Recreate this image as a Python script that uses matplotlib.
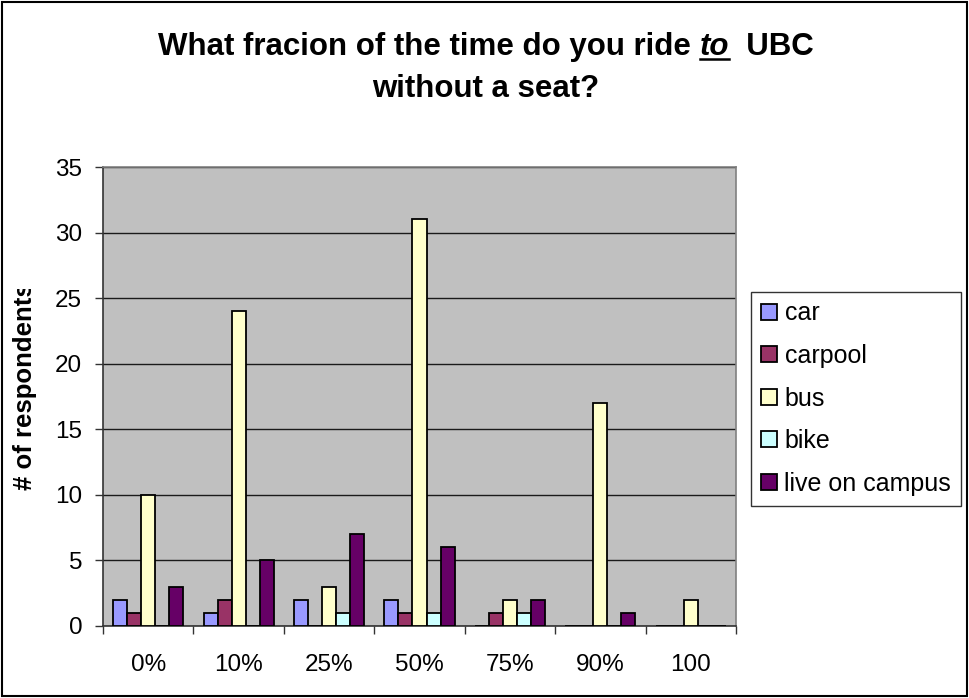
import numpy as np
import matplotlib
matplotlib.use("Agg")
from matplotlib import pyplot as plt
from matplotlib import patches
from matplotlib.transforms import Bbox, TransformedBbox

# data
categories = ["0%", "10%", "25%", "50%", "75%", "90%", "100"]
car = [2, 1, 2, 2, 0, 0, 0]
carpool = [1, 2, 0, 1, 1, 0, 0]
bus = [10, 24, 3, 31, 2, 17, 2]
bike = [0, 0, 1, 1, 1, 0, 0]
live_on_campus = [3, 5, 7, 6, 2, 1, 0]

series_names = ["car", "carpool", "bus", "bike", "live on campus"]
series_vals = [car, carpool, bus, bike, live_on_campus]
colors = ["#9999FF", "#993366", "#FFFFCC", "#CCFFFF", "#660066"]

plt.rcParams['font.family'] = ['Liberation Sans', 'DejaVu Sans']

W, H = 969, 698
fig = plt.figure(figsize=(W / 100, H / 100), dpi=100)
fig.patch.set_facecolor("white")

ax = fig.add_axes([103 / W, 1 - 626 / H, (736 - 103) / W, (626 - 167) / H])
ax.set_facecolor("#C0C0C0")

x = np.arange(len(categories))
bw = 0.155
handles = []
for i, (name, vals, c) in enumerate(zip(series_names, series_vals, colors)):
    b = ax.bar(x + (i - 2) * bw, vals, bw, color=c, edgecolor="black",
               linewidth=1.3, label=name, zorder=3)
    handles.append(b)

ax.set_xlim(-0.5, len(categories) - 0.5)
ax.set_ylim(0, 35)
ax.set_yticks(range(0, 36, 5))
ax.yaxis.grid(True, color="#1a1a1a", linewidth=1.0, zorder=1)
ax.set_axisbelow(True)

ax.set_xticks(x)
ax.set_xticklabels(categories)
ax.set_xticks(np.arange(-0.5, len(categories), 1.0), minor=True)
ax.tick_params(axis="x", which="major", length=0, pad=20, labelsize=17.5)
ax.tick_params(axis="x", which="minor", length=6, width=1, color="#333333", direction="out")
ax.tick_params(axis="y", length=6, width=1, color="#333333", pad=9, labelsize=17.5)

for s in ["top", "right"]:
    ax.spines[s].set_color("#808080")
    ax.spines[s].set_linewidth(1.2)
for s in ["left", "bottom"]:
    ax.spines[s].set_color("#333333")
    ax.spines[s].set_linewidth(1.2)

# y label, clipped at the top like in the original
yl = fig.text(25 / W, 1 - 490 / H, "# of respondents", rotation=90,
              rotation_mode="anchor", ha="left", va="center",
              fontsize=18.5, fontweight="bold")
yl.set_clip_box(TransformedBbox(Bbox([[0, 0], [1, 1 - 289 / H]]), fig.transFigure))
yl.set_clip_on(True)

leg = fig.legend(handles=handles, labels=series_names, loc="center left",
                 bbox_to_anchor=(751 / W, 1 - 398.5 / H), borderaxespad=0,
                 fontsize=18, frameon=True, fancybox=False, edgecolor="black",
                 handlelength=0.62, handleheight=0.62, handletextpad=0.32,
                 labelspacing=0.74, borderpad=0.4)
leg.get_frame().set_linewidth(1.0)

# title: pieces so "to" can be italic + underlined
tsize = 22.5
fig.canvas.draw()
r = fig.canvas.get_renderer()
y1 = 1 - 55 / H
parts = [("What fracion of the time do you ride ", "normal"),
         ("to", "italic"),
         ("  UBC", "normal")]
texts = []
for s, st in parts:
    texts.append(fig.text(0, y1, s, fontsize=tsize, fontweight="bold",
                          fontstyle=st, ha="left", va="baseline"))
widths = [t.get_window_extent(r).width for t in texts]
x0 = 486 - sum(widths) / 2
for t, w in zip(texts, widths):
    t.set_x(x0 / W)
    if t.get_text() == "to":
        fig.add_artist(plt.Line2D([x0 / W, (x0 + w) / W],
                                  [y1 - 4 / H, y1 - 4 / H],
                                  color="black", linewidth=1.8))
    x0 += w
fig.text(486 / W, 1 - 97 / H, "without a seat?", fontsize=tsize,
         fontweight="bold", ha="center", va="baseline")

fig.add_artist(patches.Rectangle((2 / W, 2 / H), (W - 4) / W, (H - 4) / H,
                                 transform=fig.transFigure, fill=False,
                                 edgecolor="black", linewidth=1.5))

fig.savefig("out.png", dpi=100)
